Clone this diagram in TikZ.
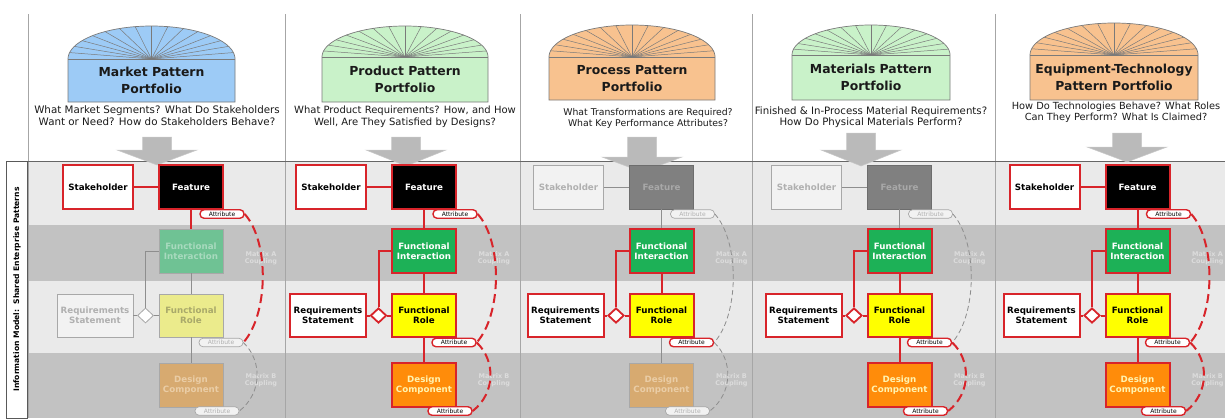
\documentclass[tikz,border=0pt]{standalone}
\usepackage{fontspec}
\setmainfont{DejaVu Sans}
\usetikzlibrary{shapes.geometric,calc}

\definecolor{redc}{HTML}{D8242A}
\definecolor{bandlt}{HTML}{EAEAEA}
\definecolor{banddk}{HTML}{C2C2C2}
\definecolor{sepc}{HTML}{A6A6A6}
\definecolor{greenc}{HTML}{1DB157}
\definecolor{orangec}{HTML}{FF8C0A}
\definecolor{yellowc}{HTML}{FFFF00}
\definecolor{domeblue}{HTML}{9DCBF6}
\definecolor{domegreen}{HTML}{C9F2C9}
\definecolor{domeorange}{HTML}{F8C28F}
\definecolor{domeedge}{HTML}{7A7A7A}
\definecolor{arrowc}{HTML}{BABABA}
\definecolor{offfill}{HTML}{F2F2F2}
\definecolor{offtext}{HTML}{B0B0B0}
\definecolor{offdraw}{HTML}{A8A8A8}
\definecolor{featoffc}{HTML}{808080}
\definecolor{featofft}{HTML}{A8A8A8}
\definecolor{fioffc}{HTML}{6FC294}
\definecolor{fiofft}{HTML}{A8DABE}
\definecolor{rloffc}{HTML}{EBEB8C}
\definecolor{rlofft}{HTML}{A9A96A}
\definecolor{dcoffc}{HTML}{D7AA70}
\definecolor{dcofft}{HTML}{EACDA6}
\definecolor{dcont}{HTML}{FFF3B0}
\definecolor{linkoffc}{HTML}{8E8E8E}
\definecolor{mtxc}{HTML}{DCDCDC}
\definecolor{titlec}{HTML}{1A1A1A}

\tikzset{
  box/.style={rectangle, minimum width=64pt, minimum height=44pt, inner sep=1pt,
    align=center, font=\fontsize{8.7}{10.2}\selectfont\bfseries},
  bon/.style={draw=redc, line width=2pt},
  boff/.style={draw=offdraw, line width=0.8pt},
  stakeon/.style={box, bon, fill=white, text=black, minimum width=70pt},
  stakeoff/.style={box, boff, fill=offfill, text=offtext, minimum width=70pt},
  featon/.style={box, bon, fill=black, text=white},
  featoff/.style={box, draw=featoffc!85!black, line width=0.8pt, fill=featoffc, text=featofft},
  fion/.style={box, bon, fill=greenc, text=white},
  fioff/.style={box, boff, fill=fioffc, text=fiofft},
  rqon/.style={box, bon, fill=white, text=black, minimum width=76pt, minimum height=43pt},
  rqoff/.style={box, boff, fill=offfill, text=offtext, minimum width=76pt, minimum height=43pt},
  rlon/.style={box, bon, fill=yellowc, text=black, minimum height=43pt},
  rloff/.style={box, boff, fill=rloffc, text=rlofft, minimum height=43pt},
  dcon/.style={box, bon, fill=orangec, text=dcont},
  dcoff/.style={box, boff, fill=dcoffc, text=dcofft},
  dmon/.style={diamond, draw=redc, line width=1.8pt, fill=white, minimum width=16pt, minimum height=15pt, inner sep=0pt},
  dmoff/.style={diamond, draw=offdraw, line width=0.8pt, fill=white, minimum width=16pt, minimum height=15pt, inner sep=0pt},
  pill/.style={rectangle, rounded corners=4pt, minimum width=44pt, minimum height=8.5pt, inner sep=0pt,
    font=\fontsize{6}{6}\selectfont},
  attron/.style={pill, draw=redc, line width=1.4pt, fill=white, text=black},
  attroff/.style={pill, draw=offdraw, line width=0.7pt, fill=offfill, text=offtext},
  linkon/.style={draw=redc, line width=2pt},
  linkoff/.style={draw=linkoffc, line width=0.8pt},
  coupon/.style={draw=redc, line width=2pt, dash pattern=on 9pt off 5pt},
  coupoff/.style={draw=linkoffc, line width=0.8pt, dash pattern=on 5pt off 3pt},
  mtx/.style={align=center, inner sep=0pt, text=mtxc, font=\fontsize{6.5}{7.5}\selectfont\bfseries},
  ptitle/.style={align=center, inner sep=0pt, text=titlec, font=\fontsize{12.4}{16.5}\selectfont\bfseries},
  qtext/.style={align=center, inner sep=0pt, text=titlec},
}

% dome-topped portfolio header: id, left, right, body top, body bottom, dome top, colour, title
\newcommand\pdome[8]{%
  \filldraw[fill=#7, draw=domeedge, line width=0.7pt]
    (#2,#4) -- (#2,#5) -- (#3,#5) -- (#3,#4) --
    plot[domain=0:180, samples=60] ({(#2+#3)/2+(#3-#2)/2*cos(\x)}, {#4-(#4-#6)*sin(\x)}) -- cycle;
  \draw[domeedge, line width=0.5pt] (#2,#4) -- (#3,#4);
  \foreach \k in {1,...,15}
    \draw[domeedge, line width=0.5pt] ({(#2+#3)/2}, #4) --
      ({(#2+#3)/2+(#3-#2)/2*cos(\k*11.25)}, {#4-(#4-#6)*sin(\k*11.25)});
  \node[ptitle] (title#1) at ({(#2+#3)/2}, {(#4+#5)/2}) {#8};
}

% grey down arrow: centre, shaft top, head top, tip
\newcommand\parrow[4]{%
  \filldraw[fill=arrowc, draw=arrowc!80!white, line width=0.5pt]
    ({#1-14.5},#2) -- ({#1+14.5},#2) -- ({#1+14.5},#3) -- ({#1+40},#3) --
    (#1,#4) -- ({#1-40},#3) -- ({#1-14.5},#3) -- cycle;
}

% one portfolio column of the shared information model: id, feature x, top/mid/design states
\newcommand\pcol[5]{%
  \node[stake#3] (sh#1) at ({#2-93},187) {Stakeholder};
  \node[feat#3] (ft#1) at (#2,187) {Feature};
  \node[fi#4] (fi#1) at (#2,251) {Functional\\Interaction};
  \node[rq#4] (rq#1) at ({#2-96},315.5) {Requirements\\Statement};
  \node[rl#4] (rl#1) at (#2,315.5) {Functional\\Role};
  \node[dc#5] (dc#1) at (#2,385) {Design\\Component};
  \node[dm#4] (dm#1) at ({#2-45.5},315.5) {};
  \node[mtx] (ma#1) at ({#2+70},258) {Matrix A\\Coupling};
  \node[mtx] (mb#1) at ({#2+70},380) {Matrix B\\Coupling};
  \draw[link#3] (sh#1) -- (ft#1);
  \draw[link#3] (ft#1) -- (fi#1);
  \draw[link#4] (fi#1) -- (rl#1);
  \draw[link#5] (rl#1) -- (dc#1);
  \draw[link#4] (rq#1) -- (dm#1);
  \draw[link#4] (dm#1) -- (rl#1);
  \draw[link#4] (dm#1.north) |- (fi#1.west);
  \node[attr#3] (fa#1) at ({#2+31},214) {Attribute};
  \node[attr#4] (ra#1) at ({#2+30},342.5) {Attribute};
  \node[attr#5] (da#1) at ({#2+26},411) {Attribute};
  \draw[coup#3] (fa#1.east) .. controls ($(fa#1.east)+(25,28)$) and ($(ra#1.east)+(25,-28)$) .. (ra#1.east);
  \draw[coup#5] (ra#1.east) .. controls ($(ra#1.east)+(19,18)$) and ($(da#1.east)+(23,-18)$) .. (da#1.east);
}

\begin{document}
\begin{tikzpicture}[x=1pt, y=-1pt]
\useasboundingbox (0,0) rectangle (1225,418);
\fill[white] (0,0) rectangle (1225,418);

% horizontal pattern bands
\fill[bandlt] (28,161) rectangle (1225,225);
\fill[banddk] (28,225) rectangle (1225,281);
\fill[bandlt] (28,281) rectangle (1225,353);
\fill[banddk] (28,353) rectangle (1225,418);

% column separators and band top rule
\foreach \s in {28,285,520,752,995}
  \draw[sepc, line width=0.8pt] (\s,14) -- (\s,418);
\draw[black!60, line width=0.8pt] (6,161) -- (1225,161);

% side label
\node[draw=black!65, line width=0.7pt, fill=white, rotate=90, minimum width=257pt, minimum height=21pt,
  inner sep=0pt, font=\fontsize{7.6}{8}\selectfont\bfseries] (side) at (17,289.5)
  {Information Model:\ \ Shared Enterprise Patterns};

% portfolio headers
\pdome{mk}{68}{235}{59}{102}{26}{domeblue}{Market Pattern\\Portfolio}
\pdome{pd}{322}{488}{57}{102}{26}{domegreen}{Product Pattern\\Portfolio}
\pdome{pc}{549}{715}{57}{100}{25}{domeorange}{Process Pattern\\Portfolio}
\pdome{mt}{792}{950}{55}{100}{25}{domegreen}{Materials Pattern\\Portfolio}
\pdome{eq}{1030}{1198}{55}{100}{23}{domeorange}{Equipment-Technology\\Pattern Portfolio}

\node[qtext, font=\fontsize{10.3}{12}\selectfont] (qmk) at (157,116)
  {What Market Segments? What Do Stakeholders\\Want or Need? How do Stakeholders Behave?};
\node[qtext, font=\fontsize{10}{12.5}\selectfont] (qpd) at (405,116.5)
  {What Product Requirements? How, and How\\Well, Are They Satisfied by Designs?};
\node[qtext, font=\fontsize{9.3}{11}\selectfont] (qpc) at (648,118.5)
  {What Transformations are Required?\\What Key Performance Attributes?};
\node[qtext, font=\fontsize{10.2}{10.5}\selectfont] (qmt) at (871,117)
  {Finished \& In-Process Material Requirements?\\How Do Physical Materials Perform?};
\node[qtext, font=\fontsize{9.8}{11}\selectfont] (qeq) at (1116,112.5)
  {How Do Technologies Behave? What Roles\\Can They Perform? What Is Claimed?};

\parrow{157}{137}{150}{165}
\parrow{406}{137}{150}{166}
\parrow{642}{137}{157}{172}
\parrow{861}{133}{150}{166}
\parrow{1127}{133}{147}{162}

% information model columns
\pcol{1}{191}{on}{off}{off}
\pcol{2}{424}{on}{on}{on}
\pcol{3}{661.5}{off}{on}{off}
\pcol{4}{899.5}{off}{on}{on}
\pcol{5}{1137.5}{on}{on}{on}
\end{tikzpicture}
\end{document}
